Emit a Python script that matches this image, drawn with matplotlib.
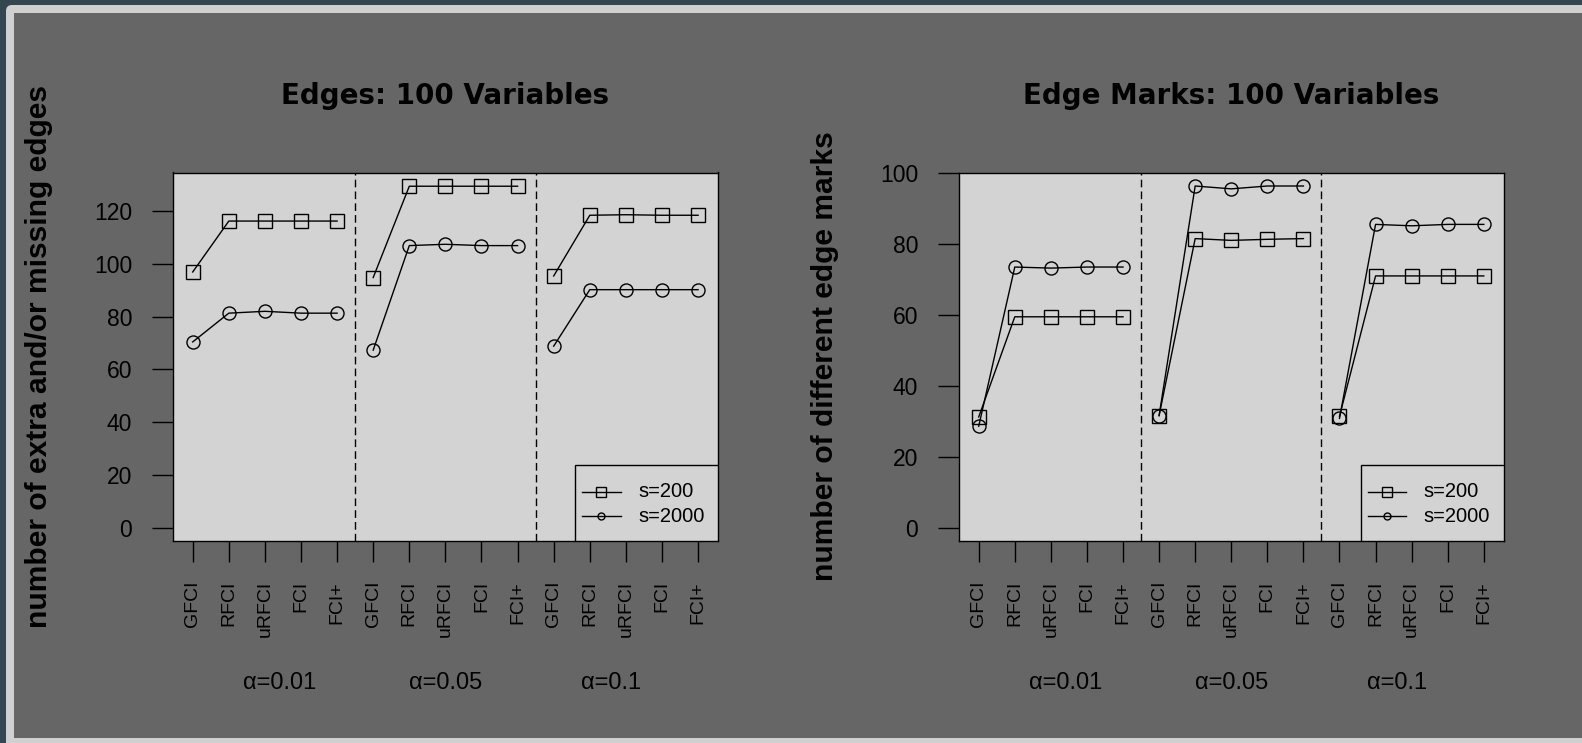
import matplotlib.pyplot as plt
from matplotlib.patches import FancyBboxPatch, Rectangle
from matplotlib.transforms import IdentityTransform, blended_transform_factory

plt.rcParams['font.family'] = ['Liberation Sans', 'DejaVu Sans']

# data (3 alpha groups x 5 methods)
methods = ['GFCI', 'RFCI', 'uRFCI', 'FCI', 'FCI+']
alpha_labels = ['\u03b1=0.01', '\u03b1=0.05', '\u03b1=0.1']
series_labels = ['s=200', 's=2000']

edges_s200 = [96.9, 116.2, 116.2, 116.2, 116.2,
              94.8, 129.4, 129.4, 129.4, 129.4,
              95.4, 118.4, 118.6, 118.4, 118.4]
edges_s2000 = [70.4, 81.3, 82.0, 81.3, 81.3,
               67.3, 106.9, 107.4, 106.9, 106.9,
               68.8, 90.2, 90.2, 90.2, 90.2]

marks_s200 = [31.2, 59.4, 59.4, 59.4, 59.4,
              31.6, 81.4, 80.9, 81.2, 81.4,
              31.4, 70.9, 70.9, 70.9, 70.9]
marks_s2000 = [28.6, 73.4, 73.1, 73.4, 73.4,
               31.6, 96.2, 95.4, 96.2, 96.2,
               30.8, 85.4, 85.0, 85.4, 85.4]

edges_yticks = [0, 20, 40, 60, 80, 100, 120]
marks_yticks = [0, 20, 40, 60, 80, 100]

W, H = 1582, 743
fig = plt.figure(figsize=(W / 100, H / 100), dpi=100)
fig.patch.set_facecolor('#34464f')

# window frame: light border then dark gray canvas
fig.add_artist(FancyBboxPatch((6, -20), 1700, H - 5 + 20,
                              boxstyle='round,pad=0,rounding_size=6',
                              transform=IdentityTransform(),
                              facecolor='#d0d0d0', edgecolor='none', zorder=-10))
fig.add_artist(Rectangle((14, 5), 1700, H - 13 - 5,
                         transform=IdentityTransform(),
                         facecolor='#666666', edgecolor='none', zorder=-9))


def draw_panel(rect, s200, s2000, ylim, yticks, title, ylabel):
    ax = fig.add_axes(rect)
    ax.set_facecolor('#d3d3d3')
    x = list(range(1, 16))
    for g in range(3):
        sl = slice(g * 5, (g + 1) * 5)
        ax.plot(x[sl], s200[sl], color='black', lw=1, marker='s', ms=10,
                mfc='none', mec='black', mew=1)
        ax.plot(x[sl], s2000[sl], color='black', lw=1, marker='o', ms=9.4,
                mfc='none', mec='black', mew=1)
    for xv in (5.5, 10.5):
        ax.axvline(xv, color='black', lw=1, ls=(0, (5.5, 3)))

    ax.set_xlim(0.44, 15.56)
    ax.set_ylim(*ylim)
    ax.set_xticks(x)
    ax.set_xticklabels(methods * 3, rotation=90, fontsize=14)
    ax.set_yticks(yticks)
    ax.set_yticklabels([str(v) for v in yticks], fontsize=16.5)
    ax.tick_params(direction='out', length=15, width=1, pad=14, colors='black')
    for sp in ax.spines.values():
        sp.set_linewidth(1)
        sp.set_color('black')

    ax.text(0.5, 1.186, title, transform=ax.transAxes, ha='center',
            va='baseline', fontsize=20, fontweight='bold',
            family='DejaVu Sans')
    ax.text(-0.244, 0.5, ylabel, transform=ax.transAxes, rotation=90,
            ha='center', va='center', fontsize=21.6, fontweight='bold')

    trans = blended_transform_factory(ax.transData, ax.transAxes)
    for xc, lab in zip([3.4, 8.0, 12.6], alpha_labels):
        ax.text(xc, -0.386, lab, transform=trans, ha='center', va='center',
                fontsize=17)

    # legend box in the lower right corner
    bx, lx0, lx1, tx = 0.737, 0.751, 0.821, 0.853
    ax.add_patch(Rectangle((bx, 0), 1 - bx, 0.205, transform=ax.transAxes,
                           facecolor='#d3d3d3', edgecolor='black', lw=1,
                           zorder=3))
    for yy, mk, ms, lab in zip([0.133, 0.067], ['s', 'o'], [7, 5], series_labels):
        ax.plot([lx0, lx1], [yy, yy], transform=ax.transAxes, color='black',
                lw=1, zorder=4)
        ax.plot([(lx0 + lx1) / 2], [yy], transform=ax.transAxes, marker=mk,
                ms=ms, mfc='none', mec='black', mew=1, zorder=4)
        ax.text(tx, yy, lab, transform=ax.transAxes, ha='left', va='center',
                fontsize=14.5, zorder=4)
    return ax


draw_panel([172.5 / W, (H - 540.7) / H, 545.8 / W, 368.2 / H],
           edges_s200, edges_s2000, (-4.92, 134.6), edges_yticks,
           'Edges: 100 Variables', 'number of extra and/or missing edges')
draw_panel([958.5 / W, (H - 540.7) / H, 545.5 / W, 368.2 / H],
           marks_s200, marks_s2000, (-3.6, 100.0), marks_yticks,
           'Edge Marks: 100 Variables', 'number of different edge marks')

fig.savefig('out.png', dpi=100, facecolor=fig.get_facecolor())
